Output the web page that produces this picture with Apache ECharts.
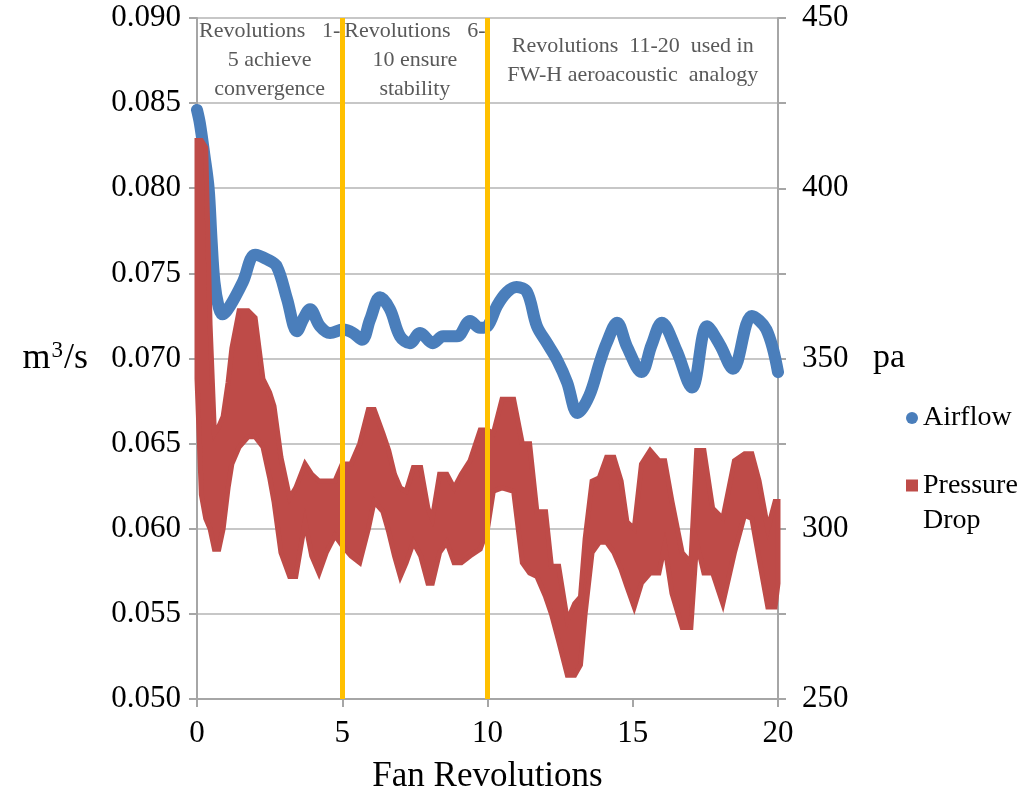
<!DOCTYPE html>
<html><head><meta charset="utf-8">
<script src="https://cdn.jsdelivr.net/npm/echarts@6/dist/echarts.min.js"></script>
<style>html,body{margin:0;padding:0;background:#fff}#c{width:1027px;height:799px}</style>
</head><body><div id="c"></div>
<script>
// Airflow (left axis, m3/s)
const airX = [0, 0.1, 0.25, 0.4, 0.5, 0.6, 0.75, 0.88, 1.14, 1.58, 2.0, 2.44, 2.75, 3.1, 3.44, 3.65, 3.89, 4.23, 4.58, 5.03, 5.37, 5.68, 5.96, 6.3, 6.64, 6.99, 7.33, 7.68, 8.12, 8.47, 8.95, 9.4, 9.74, 10.0, 10.33, 10.67, 11.0, 11.36, 11.7, 12.05, 12.4, 12.74, 13.1, 13.5, 13.87, 14.1, 14.46, 14.8, 15.3, 15.65, 16.0, 16.5, 17.04, 17.56, 18.0, 18.45, 19.1, 19.6, 20.0];
const airY = [0.0846, 0.0838, 0.0820, 0.0800, 0.0770, 0.0745, 0.0730, 0.0726, 0.0731, 0.0745, 0.0761, 0.0758, 0.0754, 0.0735, 0.0716, 0.0723, 0.0729, 0.0719, 0.0715, 0.0717, 0.0715, 0.0711, 0.0723, 0.0736, 0.0729, 0.0713, 0.0709, 0.0715, 0.0709, 0.0713, 0.0713, 0.0722, 0.0718, 0.0719, 0.0731, 0.0739, 0.0742, 0.0739, 0.0719, 0.0709, 0.0699, 0.0686, 0.0668, 0.0678, 0.0698, 0.0709, 0.0721, 0.0707, 0.0692, 0.0708, 0.0721, 0.0705, 0.0683, 0.0719, 0.0708, 0.0694, 0.0725, 0.0717, 0.0692];
// Pressure drop (right axis, pa): upper and lower edge of the oscillating band
const pdX  = [0, 0.15, 0.3, 0.45, 0.6, 0.75, 0.9, 1.07, 1.2, 1.45, 1.76, 2.0, 2.27, 2.5, 2.65, 2.89, 3.19, 3.4, 3.72, 3.95, 4.2, 4.45, 4.75,
              5.0, 5.3, 5.6, 5.9, 6.1, 6.4, 6.6, 6.8, 7.0, 7.2, 7.45, 7.7, 7.95, 8.1, 8.35, 8.6, 8.85, 9.1, 9.4, 9.75,
              10.0, 10.2, 10.5, 10.9, 11.2, 11.45, 11.7, 12.0, 12.2, 12.45, 12.75, 13.0, 13.2, 13.36, 13.6, 13.85, 14.1, 14.35, 14.6, 14.8,
              15.05, 15.3, 15.6, 15.9, 16.1, 16.35, 16.7, 17.0, 17.2, 17.45, 17.75, 18.1, 18.5, 18.85, 19.1, 19.35, 19.65, 19.9, 20.0];
const pdHi = [414, 414, 412, 360, 328, 330, 333, 343, 353, 364, 364, 362, 344, 340, 336, 321, 309, 312, 319, 316, 314, 314, 314,
              319, 319, 325, 335, 335, 328, 323, 316, 312, 311, 318, 318, 306, 303, 316, 316, 312, 316, 320, 329,
              329, 328, 338, 338, 325, 325, 305, 305, 289, 289, 273, 278, 280, 297, 314, 315, 321, 321, 314, 302,
              300, 319, 323, 320, 320, 308, 293, 290, 323, 323, 306, 303, 320, 322, 322, 314, 300, 308, 308];
const pdLo = [344, 310, 303, 300, 294, 294, 300, 312, 319, 324, 327, 327, 324, 315, 308, 293, 286, 286, 302, 292, 287, 293, 298,
              295, 292, 290, 300, 308, 305, 299, 292, 286, 290, 296, 292, 284, 284, 293, 296, 290, 290, 292, 294,
              300, 311, 312, 311, 290, 287, 286, 280, 275, 267, 257, 257, 260, 275, 293, 296, 296, 293, 288, 283,
              277, 284, 287, 287, 295, 281, 271, 271, 296, 287, 287, 278, 293, 304, 303, 291, 277, 277, 284];
// Phase dividers and annotations
const dividers = [5, 10];
const notes = [
  {x0: 0, x1: 5, text: 'Revolutions   1-\n5 achieve\nconvergence'},
  {x0: 5, x1: 10, text: 'Revolutions   6-\n10 ensure\nstability'},
  {x0: 10, x1: 20, text: 'Revolutions  11-20  used in\nFW-H aeroacoustic  analogy'}
];

const FONT = '"Liberation Serif", "Times New Roman", serif';
const GRAY = '#A6A6A6';
const RED = '#BE4B48';
const BLUE = '#4A7EBB';
const chart = echarts.init(document.getElementById('c'));
chart.setOption({
  animation: false,
  backgroundColor: '#fff',
  grid: {left: 197, right: 249, top: 18, bottom: 93},
  legend: [
    {orient: 'vertical', left: 901, top: 399, itemWidth: 12, itemHeight: 12,
     data: [{name: 'Airflow', icon: 'circle'}],
     textStyle: {fontFamily: FONT, fontSize: 28, color: '#000'}},
    {orient: 'vertical', left: 901, top: 428, itemWidth: 12, itemHeight: 12,
     data: [{name: 'Pressure Drop', icon: 'rect'}],
     formatter: function () { return ' \nPressure\nDrop'; },
     textStyle: {fontFamily: FONT, fontSize: 28, color: '#000', lineHeight: 35}}
  ],
  xAxis: {
    type: 'value', min: 0, max: 20, interval: 5,
    axisLine: {lineStyle: {color: GRAY, width: 2}},
    axisTick: {length: 8, lineStyle: {color: GRAY, width: 2}},
    axisLabel: {fontFamily: FONT, fontSize: 31, color: '#000', margin: 19},
    splitLine: {show: false},
    name: 'Fan Revolutions', nameLocation: 'middle', nameGap: 60,
    nameTextStyle: {fontFamily: FONT, fontSize: 35, color: '#000'}
  },
  yAxis: [
    {type: 'value', min: 0.05, max: 0.09, interval: 0.005,
     axisLine: {show: true, lineStyle: {color: GRAY, width: 2}},
     axisTick: {show: true, length: 8, lineStyle: {color: GRAY, width: 2}},
     axisLabel: {fontFamily: FONT, fontSize: 31, color: '#000', margin: 16, formatter: v => v.toFixed(3)},
     splitLine: {lineStyle: {color: '#B4B4B4', width: 1.5}},
     name: 'm{s|3}/s', nameLocation: 'middle', nameRotate: 0, nameGap: 109,
     nameTextStyle: {fontFamily: FONT, fontSize: 36, color: '#000',
       rich: {s: {fontFamily: FONT, fontSize: 23, color: '#000', padding: [0, 1, 16, 1]}}}},
    {type: 'value', position: 'right', min: 250, max: 450, interval: 25,
     axisLine: {show: true, lineStyle: {color: GRAY, width: 2}},
     axisTick: {show: true, length: 8, lineStyle: {color: GRAY, width: 2}},
     axisLabel: {fontFamily: FONT, fontSize: 31, color: '#000', margin: 24, formatter: v => (v % 50 === 0 ? String(v) : '')},
     splitLine: {show: false},
     name: 'pa', nameLocation: 'middle', nameRotate: 0, nameGap: 95,
     nameTextStyle: {fontFamily: FONT, fontSize: 34, color: '#000'}}
  ],
  series: [
    {name: 'Airflow', type: 'line', yAxisIndex: 0, z: 2, smooth: 0.35, showSymbol: false, symbol: 'circle',
     data: airX.map((x, i) => [x, airY[i]]),
     itemStyle: {color: BLUE},
     lineStyle: {color: BLUE, width: 12, cap: 'round', join: 'round'}},
    {name: 'Pressure Drop', type: 'custom', yAxisIndex: 1, z: 3,
     itemStyle: {color: RED},
     data: pdX.map((x, i) => [x, pdHi[i], pdLo[i]]),
     encode: {x: 0, y: [1, 2]},
     renderItem: function (params, api) {
       if (params.dataIndex !== 0) return null;
       const pts = [];
       for (let i = 0; i < pdX.length; i++) pts.push(api.coord([pdX[i], pdHi[i]]));
       for (let i = pdX.length - 1; i >= 0; i--) pts.push(api.coord([pdX[i], pdLo[i]]));
       return {type: 'polygon', shape: {points: pts}, style: {fill: RED, stroke: RED, lineWidth: 5, lineJoin: 'miter'}};
     }},
    {name: 'dividers', type: 'line', yAxisIndex: 0, z: 5, data: [],
     markLine: {silent: true, symbol: 'none', label: {show: false},
       lineStyle: {color: '#FFC000', width: 5, type: 'solid'},
       data: dividers.map(d => ({xAxis: d}))},
     markArea: {silent: true, itemStyle: {color: 'rgba(0,0,0,0)'},
       label: {position: 'inside', color: '#595959', fontFamily: FONT, fontSize: 22, lineHeight: 29},
       data: notes.map(n => [{xAxis: n.x0, yAxis: 0.09, name: n.text}, {xAxis: n.x1, yAxis: 0.085}])}}
  ]
});
</script></body></html>
